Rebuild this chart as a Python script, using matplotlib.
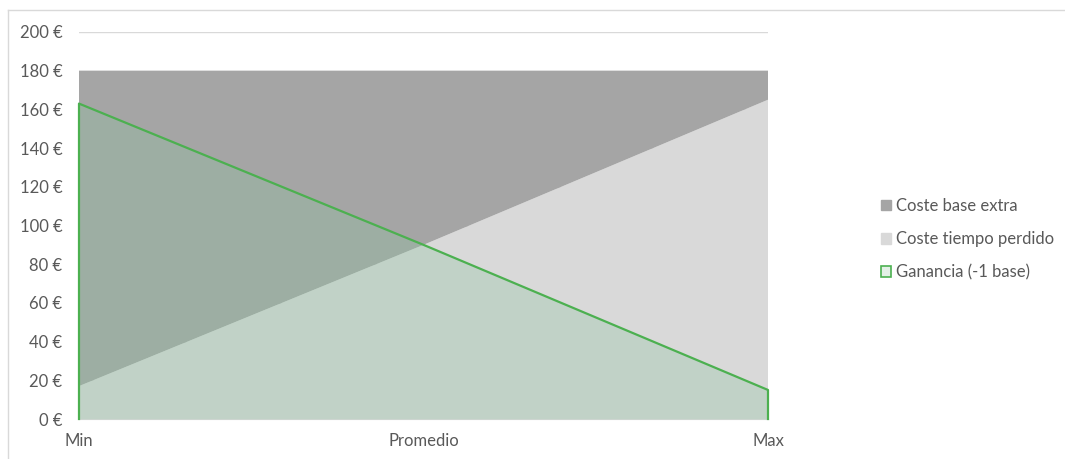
import matplotlib
matplotlib.use("Agg")
import matplotlib.pyplot as plt
import matplotlib.patches as mpatches
from matplotlib.lines import Line2D
import numpy as np

# datos
categorias = ["Min", "Promedio", "Max"]
coste_tiempo = [17, 90, 165]
coste_base = [163, 90, 15]
ganancia = [163, 90, 15]
yticks = [0, 20, 40, 60, 80, 100, 120, 140, 160, 180, 200]

gris_oscuro = "#a5a5a5"
gris_claro = "#d9d9d9"
verde = "#4cb050"
verde_fill = "#8cc5a0"
texto = "#595959"

plt.rcParams['font.family'] = ['Lato', 'DejaVu Sans']

fig = plt.figure(figsize=(10.65, 4.59), dpi=100)
ax = fig.add_axes([79/1065, 1 - 419/459, 689/1065, 387/459])

x = np.arange(len(categorias))
ax.stackplot(x, coste_tiempo, coste_base, colors=[gris_claro, gris_oscuro], zorder=2)
ax.fill_between(x, 0, ganancia, color=verde_fill, alpha=0.3, lw=0, zorder=3)
ax.plot([x[0]] + list(x) + [x[-1]], [0] + ganancia + [0], color=verde, lw=1.6,
        zorder=4, clip_on=False)

ax.set_xlim(0, 2)
ax.set_ylim(0, 200)
ax.set_yticks(yticks)
ax.set_yticklabels([f"{v} €" for v in yticks])
ax.set_xticks(x)
ax.set_xticklabels(categorias)
ax.yaxis.grid(True, color=gris_claro, lw=1, zorder=0)
ax.set_axisbelow(True)
for s in ["left", "right", "top"]:
    ax.spines[s].set_visible(False)
ax.spines["bottom"].set_color(gris_claro)
ax.tick_params(axis="both", length=0, colors=texto, labelsize=12)
ax.tick_params(axis="y", pad=12)
ax.tick_params(axis="x", pad=10)

handles = [
    mpatches.Patch(facecolor=gris_oscuro, edgecolor=gris_oscuro),
    mpatches.Patch(facecolor=gris_claro, edgecolor=gris_claro),
    mpatches.Patch(facecolor="#e3f0e6", edgecolor=verde, lw=1.2),
]
etiquetas = ["Coste base extra", "Coste tiempo perdido", "Ganancia (-1 base)"]
leg = fig.legend(handles, etiquetas, loc="upper left", bbox_to_anchor=(866/1065, 1 - 183/459),
                 frameon=False, fontsize=12, labelcolor=texto, handlelength=0.6,
                 handleheight=0.6, handletextpad=0.3, labelspacing=1.03)

# marco del gráfico
fig.add_artist(Line2D([8/1065, 8/1065], [0, 1 - 10/459], color=gris_claro, lw=1))
fig.add_artist(Line2D([8/1065, 1064/1065], [1 - 10/459, 1 - 10/459], color=gris_claro, lw=1))

fig.savefig("out.png", dpi=100)
